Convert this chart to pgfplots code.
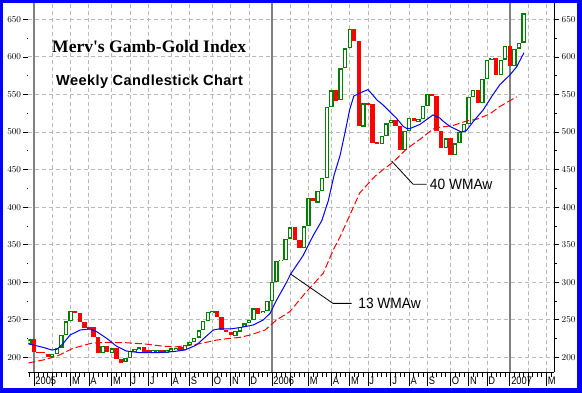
\documentclass[border=0pt]{standalone}
\usepackage{pgfplots}
\pgfplotsset{compat=1.18}
\usepackage{pgfplotstable}
\usepackage{fontspec}
\setmainfont{Liberation Sans}
\newfontfamily\ytickfont[FakeStretch=0.9]{Liberation Sans}
\newfontfamily\xtickfont[FakeStretch=0.85]{Liberation Sans}
\newfontfamily\titlefont{Liberation Serif}
\newfontfamily\subfont[LetterSpace=3]{Liberation Sans}
\newfontfamily\annfont[FakeStretch=0.92]{Liberation Sans}
\definecolor{cgreen}{RGB}{0,128,0}
\definecolor{cred}{RGB}{255,0,0}
\definecolor{cblue}{RGB}{0,0,255}
\definecolor{gridgray}{RGB}{185,185,185}
\definecolor{yeargray}{RGB}{128,128,128}

\pgfplotstableread{
i o c
-1 218 224
4 201 204
5 204 213
6 213 230
7 230 248
8 248 262
15 206 215.5
17 206 212
20 193.3 199.6
21 199 208.4
22 207.6 210.7
23 209.8 213.3
26 206.7 209.8
27 206.2 209.8
29 206.2 209.8
30 206.7 212
31 209.8 212.9
33 209.8 216.4
34 216 220.5
35 220.5 226.2
36 226.2 236
37 236 248.4
38 248 260.4
39 258.6 261.7
44 228.8 235
45 234.2 240.8
46 240.8 245.3
47 245.3 249.7
48 249.7 265.3
50 258.6 262
51 262 275.4
52 275.4 300.7
53 300.7 328
54 328 330
55 329.5 358
56 358 373
59 345 374.3
60 374.3 412.8
62 406 421.7
63 421.7 438.5
64 438.5 533.2
65 533.2 555.5
67 542.7 584.8
68 584.8 611.4
69 611.4 637.1
72 507.2 538.2
76 483.7 494.8
77 494.8 511.6
78 511.6 516
81 476 501
82 501 519
84 514 517
85 517.7 534.5
86 534.5 551
90 478.3 491.6
92 469.5 485
93 485 500
94 500 511
95 511 546.5
96 546.5 556.6
98 539 571
99 571 596.4
100 596.4 599
102 575.4 596.4
103 596.4 614.3
105 588 611.2
106 611.2 619.2
107 619.2 658
}\greentab

\pgfplotstableread{
i o c
0 224 207
1 207.5 206
2 207 205.5
3 204 201
9 262 259.5
10 259.5 247.5
11 247.5 238.7
12 240 238
13 240 226.7
14 226.7 206
16 215.5 206.7
18 212 197.3
19 197.3 193
24 213.3 207.6
25 209.8 206.7
28 209.8 207.1
32 214.2 208.9
40 261.7 253.3
41 253.3 236.4
42 236 234
43 234.2 229.7
49 265.3 257.7
57 373 356
58 356 345.5
61 412.8 408.4
66 556.5 542
70 637.1 621.2
71 621.2 508.5
73 538.2 536
74 537.6 486
75 487.2 483.7
79 516 508.5
80 508.5 476
83 519 515
87 551.3 547.8
88 547.8 501.3
89 501.3 478.3
91 491.6 469.5
97 556.6 539
101 599 575.4
104 614.3 588
}\redtab

\pgfplotsset{
  commonbox/.style={
    at={(28.3bp,21bp)}, anchor=south west, scale only axis,
    width=525.7bp, height=368.6bp,
    xmin=-1.245, xmax=113.65, ymin=180.5, ymax=671.3,
  },
}

\begin{document}
\begin{tikzpicture}
\path[use as bounding box] (0bp,0bp) rectangle (582bp,393bp);
\fill[cblue] (0bp,0bp) rectangle (582bp,393bp);
\fill[white] (2.7bp,4.7bp) rectangle (576.7bp,390.3bp);

% main axis: grid, x axis, data
\begin{axis}[commonbox,
  axis x line*=bottom, axis y line*=right,
  axis line style={black, line width=0.8bp},
  xtick={4,8,12,17,21,25,30,34,39,43,47,56,60,65,69,73,78,82,86,91,95,99,108,112},
  xticklabels={,M,A,M,J,J,A,S,O,N,D,,M,A,M,J,J,A,S,O,N,D,,M},
  extra x ticks={0,52,104},
  extra x tick labels={2005,2006,2007},
  extra x tick style={grid=major, major grid style={solid, color=yeargray, line width=1.4bp}},
  minor xtick={-1,0,...,113},
  ytick={200,250,...,650}, yticklabels={}, ytick style={draw=none},
  grid=major,
  major grid style={color=gridgray, line width=0.9bp, dash pattern=on 4bp off 3bp},
  tick align=outside, major tick length=14bp, minor tick length=4.5bp,
  xtick style={black, line width=0.8bp},
  xticklabel style={font=\xtickfont\fontsize{11}{11}\selectfont, anchor=north west, inner sep=0pt, xshift=1.2bp, yshift=9bp},
]
% green hollow candles: outer green, inner white
\addplot[draw=none, mark=none, forget plot,
  error bars/.cd, y dir=plus, y explicit, error mark=none,
  error bar style={line width=4.4bp, draw=cgreen}]
  table[x=i, y=o, y error expr=\thisrow{c}-\thisrow{o}] {\greentab};
\addplot[draw=none, mark=none, forget plot,
  error bars/.cd, y dir=plus, y explicit, error mark=none,
  error bar style={line width=1.9bp, draw=white, shorten <=1.2bp, shorten >=1.2bp}]
  table[x=i, y=o, y error expr=\thisrow{c}-\thisrow{o}] {\greentab};
% red filled candles
\addplot[draw=none, mark=none, forget plot,
  error bars/.cd, y dir=plus, y explicit, error mark=none,
  error bar style={line width=4.4bp, draw=cred}]
  table[x=i, y=c, y error expr=\thisrow{o}-\thisrow{c}] {\redtab};

% 40 WMAw
\addplot[cred, line width=1bp, dash pattern=on 7bp off 3bp] coordinates {
(-1.25,192.5) (2,196.5) (5,201.5) (8.5,212) (12.7,219) (16,220) (20,219.5)
(24,218) (28,215) (31,214) (34,216) (36.5,218.5) (39.9,223) (42.8,225.3)
(45,226.6) (47.2,229.7) (50.5,236.4) (53,249.7) (55.9,260.8) (59.2,285)
(63.2,311.8) (65.4,343) (66.9,360.6) (68,375.5) (71.2,419) (74.5,441)
(76.3,450) (78.5,460) (81.4,477.5) (84.3,490) (87.2,504) (88.5,506)
(91.6,508.8) (94.5,514.6) (96.7,517) (99.6,524) (101.8,534) (105.5,547)
};
% 13 WMAw
\addplot[cblue, line width=1bp] coordinates {
(-1.25,218) (2,213.3) (3.9,209.8) (5,210.7) (6.4,218.7) (7.9,229.8)
(10.1,236.4) (12.2,237.8) (13.7,234.2) (15.9,225.3) (18,215) (20.2,208.4)
(23.2,206.2) (26.8,206.2) (30.4,207.6) (33,209.8) (35.5,216.4) (37.7,228.4)
(39.2,236.4) (40.6,238) (42.8,237.8) (45,239.6) (47.9,243.1) (50.1,249.8)
(51.6,258.7) (53,276) (55.2,300) (56.1,311) (58.8,335.4) (61,362)
(62.9,382) (64.3,408) (65.6,443) (66.9,469) (68,500) (69,530) (69.9,548)
(71.6,553) (73,556.5) (74.1,549) (74.9,543) (76.3,536) (78.1,525)
(79.2,518.6) (80.7,507.5) (81.4,505) (82.1,504.5) (84.3,510) (87.2,522.8)
(88.7,518.6) (89.4,514.6) (90.9,507.5) (92.4,503) (93.4,500) (94.5,502)
(96,514) (98.2,529.6) (100,547) (101.8,563) (104,576) (105.5,587) (107.1,605.7)
};
% leader lines
\addplot[black, line width=0.8bp] coordinates {(56.09,310.9) (65.33,271.9) (69.41,271.9)};
\addplot[black, line width=0.8bp] coordinates {(78.15,461.4) (82.87,430.4) (85.8,430.4)};
\node[anchor=west, inner sep=0pt, font=\annfont\fontsize{15}{15}\selectfont] at (axis cs:70.85,272.5) {13 WMAw};
\node[anchor=west, inner sep=0pt, font=\annfont\fontsize{15}{15}\selectfont] at (axis cs:86.5,430.5) {40 WMAw};
\end{axis}

% right y axis
\begin{axis}[commonbox,
  hide x axis, axis y line*=right,
  axis line style={black, line width=0.8bp},
  ytick={200,250,...,650}, minor ytick={225,275,...,625},
  tick align=outside, major tick length=5bp, minor tick length=2.5bp,
  ytick style={black, line width=0.8bp},
  yticklabel style={font=\ytickfont\fontsize{9}{9}\selectfont, inner sep=0pt, anchor=west, xshift=2.5bp},
]
\addplot[draw=none] coordinates {(0,300)};
\end{axis}

% left y axis
\begin{axis}[commonbox,
  hide x axis, axis y line*=left,
  y axis line style={draw=none},
  ytick={200,250,...,650}, minor ytick={225,275,...,625},
  tick align=outside, major tick length=5bp, minor tick length=1.2bp,
  ytick style={black, line width=0.8bp},
  yticklabel style={font=\ytickfont\fontsize{9}{9}\selectfont, inner sep=0pt, anchor=east, xshift=-2bp},
]
\addplot[draw=none] coordinates {(0,300)};
\end{axis}

\node[anchor=base west, inner sep=0pt, font=\titlefont\bfseries\fontsize{17.6}{17.6}\selectfont] at (52bp,340bp) {Merv's Gamb-Gold Index};
\node[anchor=base west, inner sep=0pt, font=\subfont\bfseries\fontsize{14.6}{14.6}\selectfont] at (56bp,307bp) {Weekly Candlestick Chart};
\end{tikzpicture}
\end{document}
